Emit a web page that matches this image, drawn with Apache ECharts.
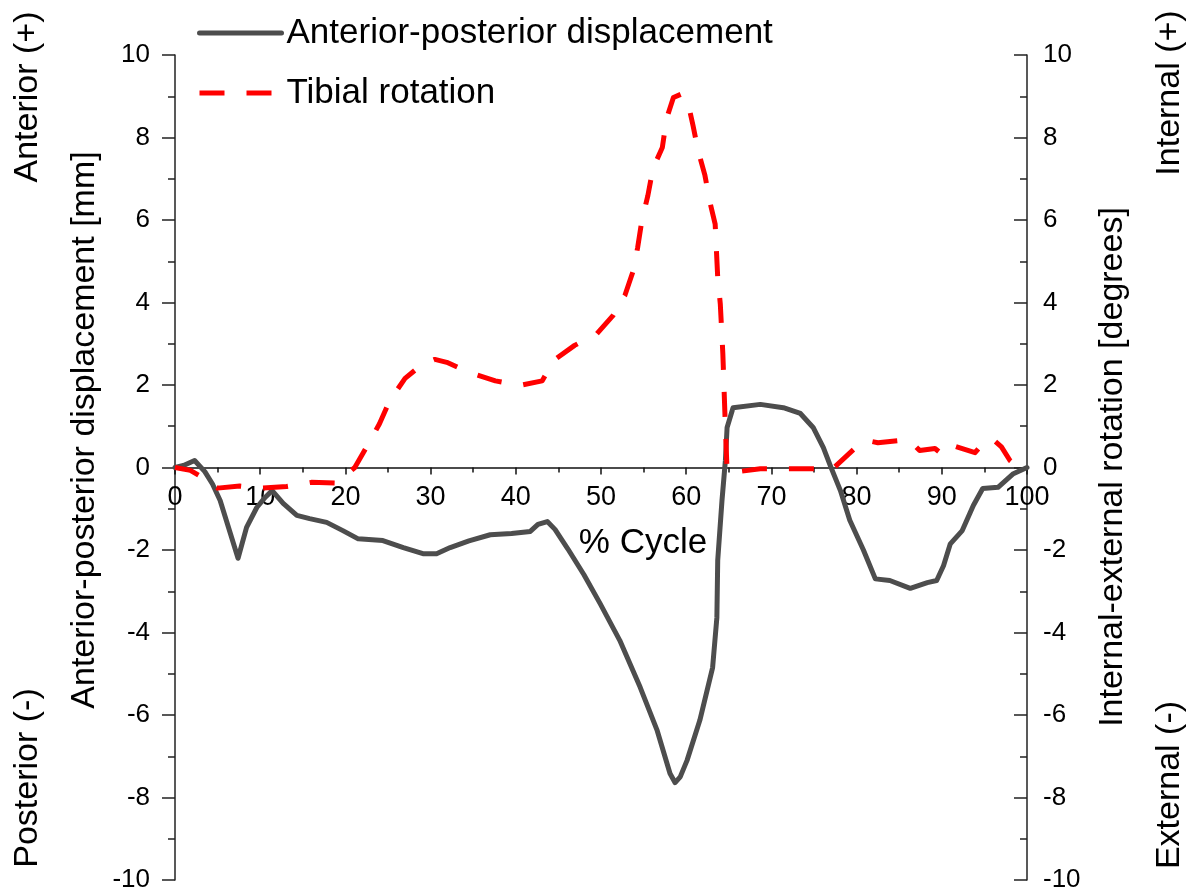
<!DOCTYPE html>
<html>
<head>
<meta charset="utf-8">
<script src="https://cdn.jsdelivr.net/npm/echarts@6/dist/echarts.min.js"></script>
<style>
  html, body { margin: 0; padding: 0; background: #fff; }
  #chart { width: 1195px; height: 892px; }
</style>
</head>
<body>
<div id="chart"></div>
<script>
// % of gait cycle and anterior-posterior displacement [mm]
const apCycle = [0, 1, 2.3, 3.5, 4.4, 5.3, 6.5, 7.4, 8.4, 9.6, 10.6, 11.4, 12.7, 14.3, 15.8, 17.8, 19.7, 21.5, 24.4, 26.8, 29.1, 30.7, 32.3, 34.5, 37, 39.5, 41.7, 42.6, 43.7, 44.6, 46.1, 48, 49.9, 52.2, 54.6, 56.6, 58.1, 58.7, 59.3, 60.1, 61.6, 63.1, 63.6, 63.7, 64.2, 64.6, 64.8, 65.5, 68.7, 71.4, 73.4, 74.9, 76.1, 76.9, 78.1, 79.2, 80.8, 82.2, 83.9, 86.3, 88.3, 89.4, 90.2, 91, 92.4, 93.7, 94.8, 96.6, 98.4, 100];
const apDisp = [0, 0.05, 0.17, -0.1, -0.4, -0.8, -1.6, -2.2, -1.45, -0.97, -0.72, -0.56, -0.87, -1.16, -1.24, -1.33, -1.53, -1.73, -1.77, -1.94, -2.09, -2.09, -1.94, -1.78, -1.63, -1.6, -1.55, -1.38, -1.31, -1.5, -1.97, -2.6, -3.3, -4.19, -5.33, -6.38, -7.42, -7.64, -7.5, -7.1, -6.13, -4.85, -3.64, -2.25, -0.8, 0.17, 0.97, 1.45, 1.53, 1.45, 1.31, 0.97, 0.48, 0.05, -0.56, -1.28, -2.0, -2.7, -2.74, -2.93, -2.79, -2.74, -2.38, -1.85, -1.53, -0.92, -0.51, -0.48, -0.15, 0];

// % of gait cycle and tibial internal-external rotation [degrees]
const rotCycle = [0, 1.8, 2.9, 4, 5, 7.6, 10.2, 13.1, 16, 19, 21.1, 22.5, 24, 25.2, 27, 29, 30.5, 31.9, 34.6, 37.6, 40.5, 43.1, 44.4, 46.9, 49.5, 51.4, 52.8, 53.8, 54.3, 54.8, 55.5, 56.1, 57.2, 57.7, 58.5, 59.4, 60.2, 60.8, 61.4, 62.2, 62.8, 63.4, 63.7, 64.0, 64.3, 64.6, 64.8, 65.4, 68.7, 71.4, 74.5, 77.2, 79.5, 80.4, 81.3, 82.5, 84.9, 85.9, 86.6, 87.4, 89.2, 90.1, 91.3, 92.5, 93.9, 94.8, 95.9, 97, 98, 99.2, 100];
const rotDeg = [0, -0.07, -0.2, -0.4, -0.5, -0.45, -0.5, -0.46, -0.36, -0.38, 0, 0.5, 1.06, 1.62, 2.16, 2.5, 2.62, 2.55, 2.3, 2.1, 1.99, 2.1, 2.59, 2.96, 3.24, 3.68, 4.17, 4.78, 5.33, 5.99, 6.59, 7.25, 7.76, 8.46, 8.97, 9.05, 8.85, 8.29, 7.68, 7.08, 6.42, 5.9, 4.6, 3.97, 2.76, 0.97, -0.07, -0.12, -0.03, -0.03, -0.03, -0.03, 0.41, 0.58, 0.65, 0.6, 0.65, 0.68, 0.58, 0.41, 0.46, 0.31, 0.53, 0.45, 0.36, 0.58, 0.70, 0.5, 0.17, -0.03, 0];

const seriesNames = ['Anterior-posterior displacement', 'Tibial rotation'];
const xTitle = '% Cycle';
const leftTitle = 'Anterior-posterior displacement [mm]';
const rightTitle = 'Internal-external rotation [degrees]';
const leftUpper = 'Anterior (+)';
const leftLower = 'Posterior (-)';
const rightUpper = 'Internal (+)';
const rightLower = 'External (-)';

const FONT = "'Liberation Sans', Arial, sans-serif";
const AXIS_COLOR = '#222';
const TEXT_COLOR = '#000';

const W = 1195, H = 892;
const GRID = { left: 175, right: 168, top: 55, bottom: 12 };
// the cycle axis crosses the plot at zero, halfway down the symmetric -10..10 range
const xAxisOffset = -(H - GRID.top - GRID.bottom) / 2;

const zip = (xs, ys) => xs.map((x, i) => [x, ys[i]]);

const yAxisBase = {
  type: 'value', min: -10, max: 10, interval: 2,
  splitLine: { show: false },
  axisLine: { show: true, onZero: false, lineStyle: { color: AXIS_COLOR, width: 1.5 } },
  axisTick: { show: true, length: 13, lineStyle: { color: AXIS_COLOR, width: 1.5 } },
  minorTick: { show: true, splitNumber: 2, length: 7, lineStyle: { color: AXIS_COLOR, width: 1.5 } },
  axisLabel: { fontFamily: FONT, fontSize: 26, color: TEXT_COLOR }
};

const chart = echarts.init(document.getElementById('chart'), null, { renderer: 'canvas' });

chart.setOption({
  backgroundColor: '#fff',
  animation: false,
  grid: Object.assign({ containLabel: false, outerBoundsMode: 'none' }, GRID),
  legend: {
    orient: 'vertical', left: 192, top: 8,
    itemWidth: 82, itemHeight: 10, itemGap: 20,
    data: seriesNames,
    itemStyle: { opacity: 0 },
    lineStyle: { width: 5 },
    textStyle: { fontFamily: FONT, fontSize: 35, color: TEXT_COLOR, lineHeight: 40 }
  },
  xAxis: {
    type: 'value', min: 0, max: 100, interval: 10,
    position: 'bottom', offset: xAxisOffset,
    splitLine: { show: false },
    axisLine: { show: true, onZero: false, lineStyle: { color: '#111', width: 1.5 } },
    axisTick: { show: true, length: 7, lineStyle: { color: '#111', width: 1.5 } },
    minorTick: { show: true, splitNumber: 2, length: 5, lineStyle: { color: '#111', width: 1.5 } },
    axisLabel: {
      show: true, hideOverlap: false, fontFamily: FONT, fontSize: 27, color: TEXT_COLOR,
      margin: 17, showMinLabel: true, showMaxLabel: true
    }
  },
  yAxis: [
    Object.assign({}, yAxisBase, {
      position: 'left',
      axisTick: Object.assign({}, yAxisBase.axisTick, { inside: false }),
      axisLabel: Object.assign({}, yAxisBase.axisLabel, { margin: 25 })
    }),
    Object.assign({}, yAxisBase, {
      position: 'right',
      axisTick: Object.assign({}, yAxisBase.axisTick, { inside: true }),
      axisLabel: Object.assign({}, yAxisBase.axisLabel, { margin: 16 })
    })
  ],
  series: [
    {
      name: seriesNames[0], type: 'line', yAxisIndex: 0,
      data: zip(apCycle, apDisp),
      symbol: 'none', smooth: false,
      lineStyle: { color: '#4d4d4d', width: 5, cap: 'round', join: 'round' },
      itemStyle: { color: '#4d4d4d' }
    },
    {
      name: seriesNames[1], type: 'line', yAxisIndex: 1,
      data: zip(rotCycle, rotDeg),
      symbol: 'none', smooth: false,
      lineStyle: { color: '#ff0000', width: 5, type: [25, 22], join: 'round' },
      itemStyle: { color: '#ff0000' }
    }
  ],
  graphic: [
    { type: 'text', x: 643, y: 543, style: { text: xTitle, font: `35px ${FONT}`, fill: TEXT_COLOR, textAlign: 'center', textVerticalAlign: 'middle' } },
    { type: 'text', x: 85, y: 430, rotation: Math.PI / 2, style: { text: leftTitle, font: `34px ${FONT}`, fill: TEXT_COLOR, textAlign: 'center', textVerticalAlign: 'middle' } },
    { type: 'text', x: 28, y: 97, rotation: Math.PI / 2, style: { text: leftUpper, font: `34px ${FONT}`, fill: TEXT_COLOR, textAlign: 'center', textVerticalAlign: 'middle' } },
    { type: 'text', x: 28, y: 778, rotation: Math.PI / 2, style: { text: leftLower, font: `34px ${FONT}`, fill: TEXT_COLOR, textAlign: 'center', textVerticalAlign: 'middle' } },
    { type: 'text', x: 1113, y: 467, rotation: Math.PI / 2, style: { text: rightTitle, font: `34px ${FONT}`, fill: TEXT_COLOR, textAlign: 'center', textVerticalAlign: 'middle' } },
    { type: 'text', x: 1170, y: 93, rotation: Math.PI / 2, style: { text: rightUpper, font: `34px ${FONT}`, fill: TEXT_COLOR, textAlign: 'center', textVerticalAlign: 'middle' } },
    { type: 'text', x: 1170, y: 785, rotation: Math.PI / 2, style: { text: rightLower, font: `34px ${FONT}`, fill: TEXT_COLOR, textAlign: 'center', textVerticalAlign: 'middle' } }
  ]
});
</script>
</body>
</html>
